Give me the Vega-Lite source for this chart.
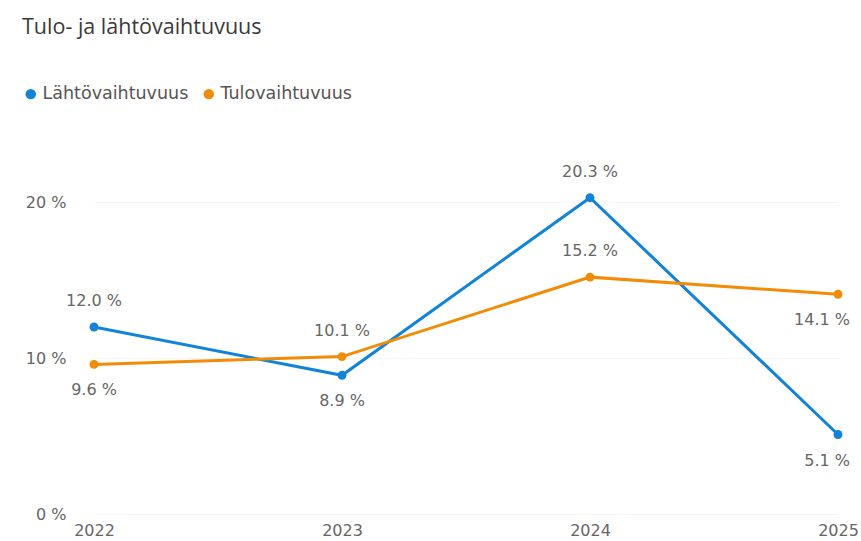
{
  "$schema": "https://vega.github.io/schema/vega-lite/v6.json",
  "autosize": "none",
  "width": 744,
  "height": 374,
  "padding": {"left": 94, "top": 140, "right": 23, "bottom": 27},
  "background": "white",
  "title": {
    "text": "Tulo- ja lähtövaihtuvuus",
    "anchor": "start",
    "offset": 47,
    "font": "Open Sans",
    "fontSize": 21.5,
    "fontWeight": "normal",
    "color": "#3a3a3a"
  },
  "config": {
    "view": {"stroke": null},
    "font": "DejaVu Sans"
  },
  "data": {
    "values": [
      {"year": "2022", "series": "Lähtövaihtuvuus", "value": 12.0},
      {"year": "2023", "series": "Lähtövaihtuvuus", "value": 8.9},
      {"year": "2024", "series": "Lähtövaihtuvuus", "value": 20.3},
      {"year": "2025", "series": "Lähtövaihtuvuus", "value": 5.1},
      {"year": "2022", "series": "Tulovaihtuvuus", "value": 9.6},
      {"year": "2023", "series": "Tulovaihtuvuus", "value": 10.1},
      {"year": "2024", "series": "Tulovaihtuvuus", "value": 15.2},
      {"year": "2025", "series": "Tulovaihtuvuus", "value": 14.1}
    ]
  },
  "transform": [
    {"calculate": "format(datum.value, '.1f') + ' %'", "as": "label"}
  ],
  "encoding": {
    "x": {
      "field": "year",
      "type": "ordinal",
      "scale": {"type": "point", "padding": 0},
      "axis": {
        "title": null,
        "labelAngle": 0,
        "domain": false,
        "ticks": false,
        "grid": false,
        "labelPadding": 8,
        "labelFontSize": 16,
        "labelColor": "#666666",
        "labelFont": "DejaVu Sans"
      }
    },
    "y": {
      "field": "value",
      "type": "quantitative",
      "scale": {"domain": [0, 24], "nice": false},
      "axis": {
        "title": null,
        "values": [0, 10, 20],
        "labelExpr": "datum.value + ' %'",
        "domain": false,
        "ticks": false,
        "grid": true,
        "gridColor": "#f6f6f6",
        "labelPadding": 28,
        "labelFontSize": 16,
        "labelColor": "#666666",
        "labelFont": "DejaVu Sans"
      }
    },
    "color": {
      "field": "series",
      "type": "nominal",
      "scale": {
        "domain": ["Lähtövaihtuvuus", "Tulovaihtuvuus"],
        "range": ["#1283D6", "#F28C06"]
      },
      "legend": {
        "title": null,
        "orient": "none",
        "legendX": -72,
        "legendY": -55,
        "direction": "horizontal",
        "symbolType": "circle",
        "symbolSize": 110,
        "symbolStrokeWidth": 0,
        "labelFontSize": 17.5,
        "labelColor": "#555555",
        "labelFont": "DejaVu Sans",
        "labelOffset": 3,
        "columnPadding": 11
      }
    }
  },
  "layer": [
    {"mark": {"type": "line", "strokeWidth": 3}},
    {"mark": {"type": "point", "filled": true, "size": 80, "opacity": 1}},
    {
      "transform": [
        {"filter": "datum.year != '2025' && ((datum.series == 'Lähtövaihtuvuus' && (datum.year == '2022' || datum.year == '2024')) || (datum.series == 'Tulovaihtuvuus' && (datum.year == '2023' || datum.year == '2024')))"}
      ],
      "mark": {"type": "text", "dy": -26, "fontSize": 16, "font": "DejaVu Sans"},
      "encoding": {"text": {"field": "label"}, "color": {"value": "#666666"}}
    },
    {
      "transform": [
        {"filter": "datum.year != '2025' && ((datum.series == 'Lähtövaihtuvuus' && (datum.year == '2023')) || (datum.series == 'Tulovaihtuvuus' && (datum.year == '2022')))"}
      ],
      "mark": {"type": "text", "dy": 26, "fontSize": 16, "font": "DejaVu Sans"},
      "encoding": {"text": {"field": "label"}, "color": {"value": "#666666"}}
    },
    {
      "transform": [{"filter": "datum.year == '2025'"}],
      "mark": {"type": "text", "dy": 26, "dx": 12, "align": "right", "fontSize": 16, "font": "DejaVu Sans"},
      "encoding": {"text": {"field": "label"}, "color": {"value": "#666666"}}
    }
  ]
}
